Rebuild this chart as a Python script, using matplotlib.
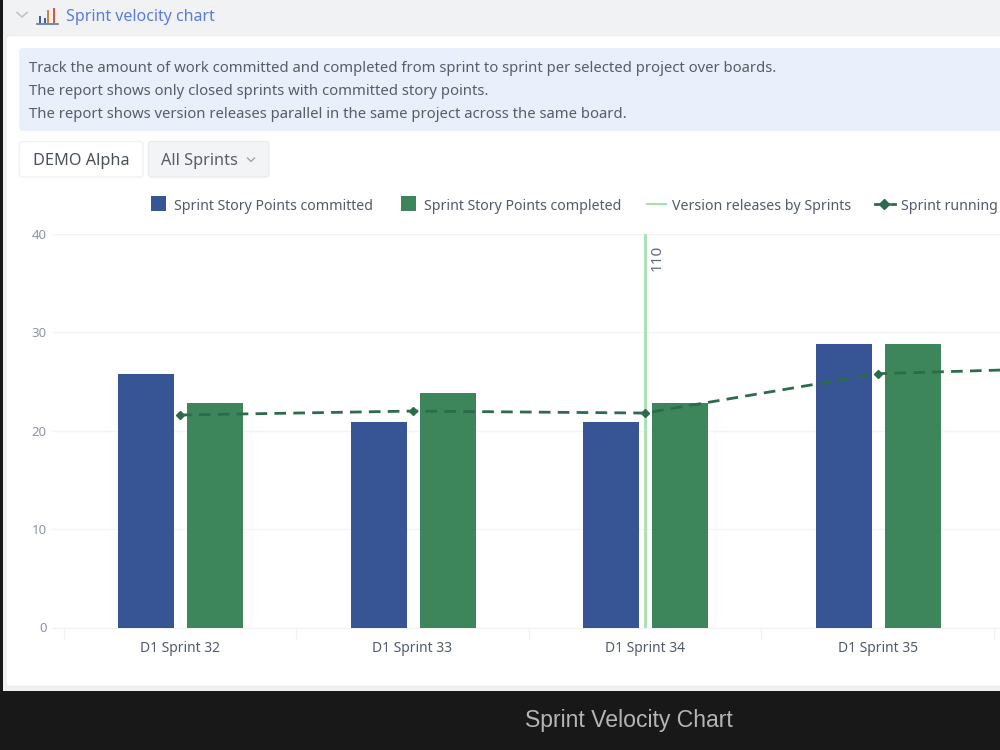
# -*- coding: utf-8 -*-
import numpy as np
import matplotlib
matplotlib.use('Agg')
import matplotlib.pyplot as plt
from matplotlib.patches import FancyBboxPatch, Rectangle

sprints = ['D1 Sprint 32', 'D1 Sprint 33', 'D1 Sprint 34', 'D1 Sprint 35']
committed = [25.8, 20.9, 20.9, 28.8]
completed = [22.8, 23.8, 22.8, 28.8]
# the running average carries on into the next sprint, past the panel edge
running = [21.6, 22.0, 21.8, 25.8, 26.5]
release_pos = [2.0]
release_names = ['110']
y_ticks = [0, 10, 20, 30, 40]

info_lines = ['Track the amount of work committed and completed from sprint to sprint per selected project over boards.',
              'The report shows only closed sprints with committed story points.',
              'The report shows version releases parallel in the same project across the same board.']

BLUE = '#375494'
GREEN = '#3d865c'
DARK = '#2c6b4c'
LIGHT = '#a5e0b0'
TEXT = '#515b6c'

plt.rcParams['font.family'] = ['Noto Sans', 'DejaVu Sans']

W, H = 1000, 750
fig = plt.figure(figsize = (W / 100, H / 100), dpi = 100, facecolor = '#181818')

# Page furniture, in pixel coordinates
bg = fig.add_axes([0, 0, 1, 1])
bg.set_xlim(0, W)
bg.set_ylim(H, 0)
bg.axis('off')

def box(x0, y0, x1, y1, fc, ec = 'none', r = 0, z = 1):
    if r:
        p = FancyBboxPatch((x0, y0), x1 - x0, y1 - y0, boxstyle = 'round,pad=0,rounding_size=%g' % r,
                           fc = fc, ec = ec, lw = 1, zorder = z)
    else:
        p = Rectangle((x0, y0), x1 - x0, y1 - y0, fc = fc, ec = ec, lw = 1, zorder = z)
    bg.add_patch(p)

box(3, 0, 1000, 690.5, '#eff0f2')
box(6, 35.5, 1010, 686.5, 'white', '#eceef0', r = 3, z = 2)
box(6, 0, 1000, 35, '#f1f2f4', z = 2)
box(19, 48, 1010, 131, '#e9f0fc', r = 4, z = 3)
box(19.5, 141.5, 143, 177, 'white', '#f0f1f3', r = 3, z = 3)
box(148.5, 141.5, 269, 177, '#f3f4f5', '#e9ebed', r = 3, z = 3)

# Header chevron and bar icon
bg.plot([17, 22, 27], [12.5, 17, 12.5], color = '#c0c4ca', lw = 1.2, zorder = 4)
bg.plot([37, 58], [24.2, 24.2], color = '#5a6fb5', lw = 1.2, zorder = 4)
for x0, top, c in [(39, 16, '#3f5fa8'), (43.5, 18, '#3f5fa8'), (47, 10, '#d9813f'), (53, 8, '#d9563f')]:
    box(x0, top, x0 + 2.2, 23.2, c, z = 4)
bg.text(65.5, 17, 'Sprint velocity chart', color = '#5b7be0', fontsize = 11.5, va = 'center', zorder = 4)

for y, line in zip([69, 91.5, 114], info_lines):
    bg.text(29, y, line, color = '#565e6b', fontsize = 10.7, va = 'center', zorder = 4)
bg.text(81.5, 161, 'DEMO Alpha', color = '#4a505a', fontsize = 11.7, ha = 'center', va = 'center', zorder = 4)
bg.text(161, 161, 'All Sprints', color = '#565e6b', fontsize = 11.7, va = 'center', zorder = 4)
bg.plot([247.5, 251, 254.5], [158, 161.5, 158], color = '#a0a5ad', lw = 1, zorder = 4)

# Legend row
box(151, 196, 166, 211, BLUE, z = 4)
box(401, 196, 416, 211, GREEN, z = 4)
bg.plot([647, 666], [204, 204], color = LIGHT, lw = 1.5, zorder = 4)
bg.plot([875, 889], [204, 204], color = DARK, lw = 2, zorder = 4)
bg.plot([884], [204], marker = 'D', ms = 5, color = DARK, zorder = 4)
bg.plot([892, 894.5], [204, 204], color = DARK, lw = 2, zorder = 4)
for x, name in zip([174, 424, 672, 901], ['Sprint Story Points committed', 'Sprint Story Points completed',
                                          'Version releases by Sprints', 'Sprint running']):
    bg.text(x, 206, name, color = TEXT, fontsize = 10.2, weight = 'medium', va = 'center', zorder = 4)

bg.text(629, 721, 'Sprint Velocity Chart', color = '#b5b5b5', fontsize = 16.6, ha = 'center', va = 'center',
        family = ['Liberation Sans', 'DejaVu Sans'], zorder = 4)

# The chart proper; one x unit is 232.5 px, sprint 32 is centred on x = 180 px
left, right, top, bottom = 52, 1000, 234, 627.5
ax = fig.add_axes([left / W, 1 - bottom / H, (right - left) / W, (bottom - top) / H])
ax.patch.set_alpha(0)
ax.set_xlim((left - 180) / 232.5, (right - 180) / 232.5)
ax.set_ylim(0, 40)

x = np.arange(len(sprints))
ax.bar(x - 0.146, committed, width = 0.241, color = BLUE, zorder = 3)
ax.bar(x + 0.151, completed, width = 0.241, color = GREEN, zorder = 3)

for pos, name in zip(release_pos, release_names):
    ax.axvline(pos, color = LIGHT, lw = 2, zorder = 4)
    ax.annotate(name, xy = (pos, 40), xytext = (3.2, -8), textcoords = 'offset points', rotation = 90,
                ha = 'left', va = 'top', color = '#5f6878', fontsize = 11, zorder = 6)

ax.plot(np.arange(len(running)), running, color = DARK, lw = 2, dashes = (4.2, 2.6),
        marker = 'D', ms = 4.5, zorder = 5)

ax.set_yticks(y_ticks)
ax.set_xticks(x)
ax.set_xticklabels(sprints, color = TEXT, fontsize = 10, weight = 'medium')
ax.set_xticks(np.arange(-0.5, 4), minor = True)
ax.tick_params(axis = 'x', which = 'major', length = 0, pad = 10)
ax.tick_params(axis = 'x', which = 'minor', length = 8, width = 1, color = '#f0f1f3')
ax.tick_params(axis = 'y', length = 0, pad = 4, labelcolor = '#8c95a6', labelsize = 9.5)
ax.grid(axis = 'y', color = '#f3f4f5', lw = 1, zorder = 0)
for side in ['top', 'left', 'right']:
    ax.spines[side].set_visible(False)
ax.spines['bottom'].set_color('#f0f1f3')

plt.savefig('out.png', dpi = 100, facecolor = fig.get_facecolor())
plt.close()
